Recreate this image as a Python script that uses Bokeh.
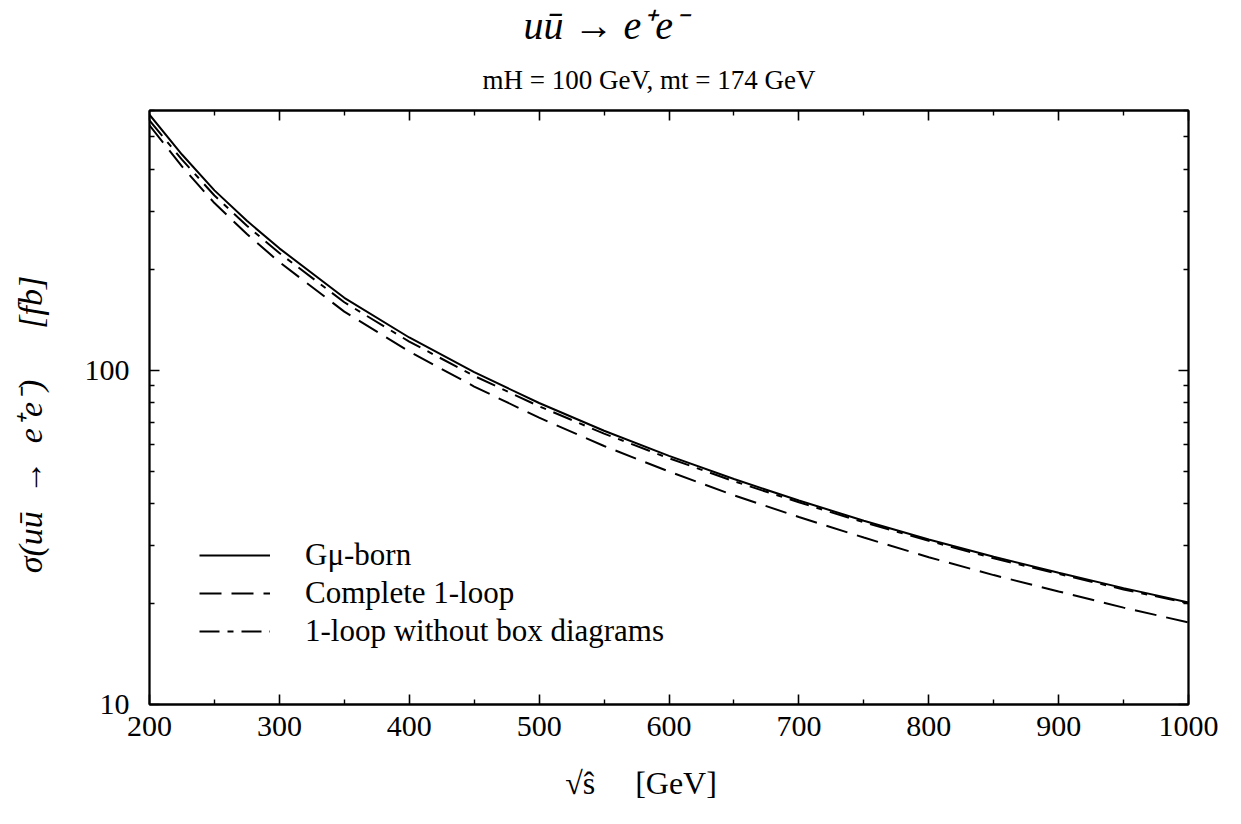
from bokeh.plotting import figure
from bokeh.models import FixedTicker, LinearAxis, LogAxis, Legend, LegendItem, Range1d, Title
from bokeh.embed import file_html
from bokeh.resources import INLINE

# ---------------- data ----------------
sqrt_s = [200, 225, 250, 275, 300, 350, 400, 450, 500, 550, 600, 650, 700, 750, 800, 850, 900, 950, 1000]
born = [583, 443, 346, 280.5, 232, 165, 125.5, 98.8, 79.9, 66.0, 55.5, 47.3, 40.8, 35.5, 31.2, 27.7, 24.8, 22.3, 20.2]
loop_complete = [542, 408, 317, 256, 211, 150, 114, 89.5, 72.2, 59.4, 49.8, 42.3, 36.4, 31.6, 27.6, 24.4, 21.8, 19.5, 17.6]
loop_nobox = [560, 427.5, 334, 271, 224.6, 160, 122, 96.3, 78.1, 64.7, 54.6, 46.6, 40.3, 35.1, 30.9, 27.4, 24.6, 22.1, 20.1]

x_major = [200, 300, 400, 500, 600, 700, 800, 900, 1000]
x_minor = [250, 350, 450, 550, 650, 750, 850, 950]
y_major = [10, 100]
y_minor = [20, 30, 40, 50, 60, 70, 80, 90, 200, 300, 400, 500, 600]
y_labels = {10: "10", 100: "100"}
legend_labels = ["Gμ-born", "Complete 1-loop", "1-loop without box diagrams"]
title_text = "uū → e⁺e⁻"
subtitle_text = "mH = 100 GeV, mt = 174 GeV"
NB = "\u00a0"
x_label = "√ŝ" + NB * 5 + "[GeV]" + NB * 7
y_label = "σ(uū\u2002→\u2002e⁺e⁻)" + NB * 6 + "[fb]" + NB * 4

# ---------------- layout ----------------
FONT = "Liberation Serif"
W, H = 1225, 808
ML, MR, MT, MB = 149, 37, 110, 104

p = figure(width=W, height=H, x_range=Range1d(200, 1000), y_range=Range1d(10, 600),
           y_axis_type="log", output_backend="svg", toolbar_location=None,
           min_border_left=ML, min_border_right=MR, min_border_top=MT, min_border_bottom=MB)
p.title.visible = False
p.grid.visible = False
p.outline_line_color = "black"
p.outline_line_width = 1.8
p.background_fill_color = "white"
p.border_fill_color = "white"


def style_axis(ax, labels=True):
    ax.axis_line_color = "black"
    ax.axis_line_width = 1.8
    ax.major_tick_line_color = "black"
    ax.major_tick_line_width = 1.6
    ax.major_tick_in = 10
    ax.major_tick_out = 0
    ax.minor_tick_line_color = "black"
    ax.minor_tick_line_width = 1.4
    ax.minor_tick_in = 5
    ax.minor_tick_out = 0
    ax.major_label_text_font = FONT
    if labels:
        ax.major_label_text_font_size = "30px"
        ax.major_label_text_color = "black"
    else:
        ax.major_label_text_font_size = "2px"
        ax.major_label_text_color = None
        ax.major_label_standoff = 0


p.xaxis.ticker = FixedTicker(ticks=x_major, minor_ticks=x_minor)
p.yaxis.ticker = FixedTicker(ticks=y_major, minor_ticks=y_minor)
p.yaxis.major_label_overrides = y_labels
style_axis(p.xaxis[0])
style_axis(p.yaxis[0])
p.xaxis.major_label_standoff = 12
p.yaxis.major_label_standoff = 20

p.xaxis.axis_label = x_label
p.xaxis.axis_label_text_font = FONT
p.xaxis.axis_label_text_font_size = "32px"
p.xaxis.axis_label_text_font_style = "normal"
p.xaxis.axis_label_text_color = "black"
p.xaxis.axis_label_standoff = 26

p.yaxis.axis_label = y_label
p.yaxis.axis_label_text_font = FONT
p.yaxis.axis_label_text_font_size = "34px"
p.yaxis.axis_label_text_font_style = "italic"
p.yaxis.axis_label_text_color = "black"
p.yaxis.axis_label_standoff = 33

top = LinearAxis(ticker=FixedTicker(ticks=x_major, minor_ticks=x_minor))
style_axis(top, labels=False)
p.add_layout(top, "above")
right = LogAxis(ticker=FixedTicker(ticks=y_major, minor_ticks=y_minor))
style_axis(right, labels=False)
p.add_layout(right, "right")

p.add_layout(Title(text=subtitle_text, align="left", offset=333, text_font=FONT,
                   text_font_size="27px", text_font_style="normal", text_color="black",
                   standoff=31), "above")
p.add_layout(Title(text=title_text, align="left", offset=374, text_font=FONT,
                   text_font_size="40px", text_font_style="italic", text_color="black",
                   standoff=0), "above")

# ---------------- curves ----------------
r1 = p.line(sqrt_s, born, line_color="black", line_width=2)
r2 = p.line(sqrt_s, loop_complete, line_color="black", line_width=2, line_dash="22 10")
r3 = p.line(sqrt_s, loop_nobox, line_color="black", line_width=2, line_dash="20 8 6 8")

legend = Legend(items=[LegendItem(label=legend_labels[0], renderers=[r1]),
                       LegendItem(label=legend_labels[1], renderers=[r2]),
                       LegendItem(label=legend_labels[2], renderers=[r3])],
                location=(50, 55), border_line_color=None, background_fill_alpha=0,
                padding=0, margin=0, spacing=2, glyph_width=71, glyph_height=20,
                label_height=20, label_standoff=35, label_text_font=FONT,
                label_text_font_size="31px", label_text_color="black")
p.add_layout(legend)

open("out.html", "w").write(file_html(p, INLINE))
